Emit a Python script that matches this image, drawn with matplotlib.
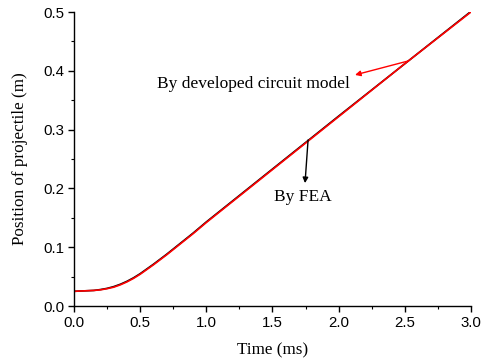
import matplotlib
matplotlib.use("Agg")
import matplotlib.pyplot as plt
from matplotlib.ticker import MultipleLocator, FormatStrFormatter

time_ms = [0.0, 0.1, 0.15, 0.2, 0.25, 0.3, 0.35, 0.4, 0.45, 0.5, 0.6, 0.7, 0.8, 0.9, 1.0, 1.5, 2.0, 2.5, 3.0]
pos_fea = [0.025, 0.026, 0.0265, 0.028, 0.030, 0.033, 0.037, 0.042, 0.048, 0.055, 0.071, 0.088, 0.106, 0.124, 0.143, 0.233, 0.323, 0.412, 0.501]
pos_circuit = [0.025, 0.026, 0.0265, 0.0275, 0.0295, 0.032, 0.036, 0.041, 0.047, 0.054, 0.070, 0.087, 0.105, 0.123, 0.142, 0.232, 0.322, 0.412, 0.500]

fig = plt.figure(figsize=(4.85, 3.64), dpi=100)
ax = fig.add_axes([0.1526, 0.1593, 0.8184, 0.8077])

ax.plot(time_ms, pos_fea, color="black", lw=1.2)
ax.plot(time_ms, pos_circuit, color="red", lw=1.2)

ax.set_xlim(0, 3.0)
ax.set_ylim(0, 0.5)
ax.xaxis.set_major_locator(MultipleLocator(0.5))
ax.xaxis.set_minor_locator(MultipleLocator(0.25))
ax.yaxis.set_major_locator(MultipleLocator(0.1))
ax.yaxis.set_minor_locator(MultipleLocator(0.05))
ax.xaxis.set_major_formatter(FormatStrFormatter("%.1f"))
ax.yaxis.set_major_formatter(FormatStrFormatter("%.1f"))

for s in ["top", "right"]:
    ax.spines[s].set_visible(False)
for s in ["left", "bottom"]:
    ax.spines[s].set_linewidth(1.0)

ax.tick_params(which="major", direction="out", length=4, width=1.0,
               labelsize=10.8, pad=3)
ax.tick_params(which="minor", direction="out", length=2.5, width=0.8)
for lab in ax.get_xticklabels() + ax.get_yticklabels():
    lab.set_family("Liberation Sans")

ax.set_xlabel("Time (ms)", family="Liberation Serif", fontsize=12.3, labelpad=9)
ax.set_ylabel("Position of projectile (m)", family="Liberation Serif", fontsize=12.3, labelpad=11)

ax.annotate("", xy=(2.124, 0.393), xytext=(2.525, 0.4167),
            arrowprops=dict(arrowstyle="-|>", color="red", lw=1.0,
                            mutation_scale=8, shrinkA=0, shrinkB=0))
ax.text(1.353, 0.3776, "By developed circuit model", family="Liberation Serif",
        fontsize=12.5, ha="center", va="center")

ax.annotate("", xy=(1.746, 0.209), xytext=(1.769, 0.2823),
            arrowprops=dict(arrowstyle="-|>", color="black", lw=1.0,
                            mutation_scale=8, shrinkA=0, shrinkB=0))
ax.text(1.731, 0.185, "By FEA", family="Liberation Serif",
        fontsize=12.5, ha="center", va="center")

fig.savefig("out.png", dpi=100)
